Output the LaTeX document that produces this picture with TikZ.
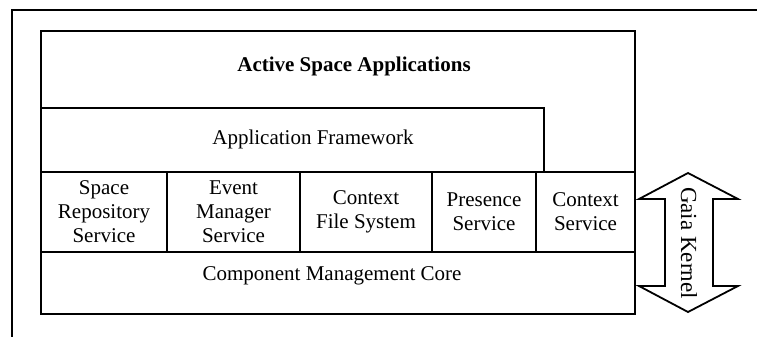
\documentclass[tikz,border=0pt]{standalone}
\usepackage{fontspec}
\setmainfont{Liberation Serif}
\usetikzlibrary{positioning}

\begin{document}
\begin{tikzpicture}[x=1pt, y=-1pt,
	layer/.style = {draw, line width=1.8pt, rectangle, inner sep=0pt, outer sep=0pt,
		anchor=north west, align=center, font=\fontsize{21}{24}\selectfont},
	service/.style = {layer, anchor=west, minimum height=80pt},
	title/.style = {font=\fontsize{21}{24}\selectfont},
	node distance = 0pt]
\useasboundingbox (0, 0) rectangle (757, 337);

\draw[line width=1.8pt] (12, 337) -- 
	(12, 10) -- 
	(757, 10);

\node[layer, minimum width=594pt, minimum height=141pt] (apps) at (41, 31) {};
\node[title, font=\fontsize{21}{24}\selectfont\bfseries] (appstitle) at (354, 66) 
	{Active Space Applications};

\node[layer, minimum width=503pt, minimum height=64pt] (framework) at (41, 108) {};
\node[title] (fwtitle) at (313, 139) {Application Framework};

\node[service, minimum width=126pt] (repo) at (41, 212) {Space\\Repository\\Service};
\node[service, minimum width=133pt, right=of repo] (event) {Event\\Manager\\Service};
\node[service, minimum width=132pt, right=of event] (cfs) {Context\\File System};
\node[service, minimum width=104pt, right=of cfs] (presence) {Presence\\Service};
\node[service, minimum width=99pt, right=of presence] (context) {Context\\Service};

\node[layer, minimum width=594pt, minimum height=62pt] (core) at (41, 252) {};
\node[title] (coretitle) at (332, 276) {Component Management Core};

\draw[line width=1.8pt, line join=miter] (688, 173) -- 
	(738, 199) -- 
	(713, 199) -- 
	(713, 286) -- 
	(738, 286) -- 
	(688, 312) -- 
	(639, 286) -- 
	(665, 286) -- 
	(665, 199) -- 
	(639, 199) -- cycle;
\node[rotate=-90, font=\fontsize{23}{24}\selectfont] (kernel) at (689, 243) {Gaia Kernel};
\end{tikzpicture}
\end{document}
